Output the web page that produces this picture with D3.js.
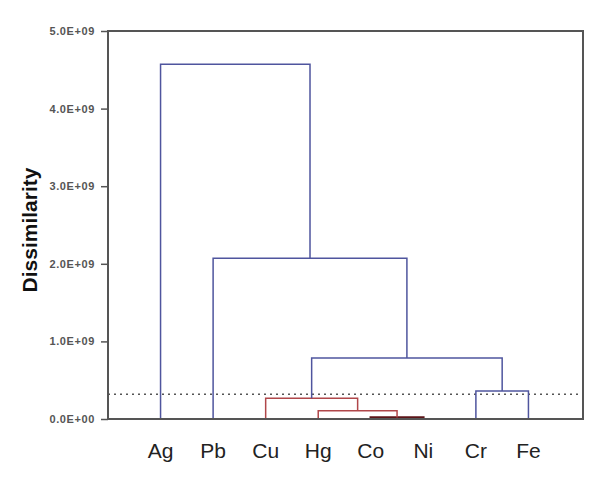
<!DOCTYPE html>
<html>
<head>
<meta charset="utf-8">
<script src="https://cdn.jsdelivr.net/npm/d3@7"></script>
<style>
  body { margin: 0; background: #fff; }
  svg { display: block; font-family: Arial, "Liberation Sans", sans-serif; }
</style>
</head>
<body>
<svg id="chart" width="600" height="477"></svg>
<script>
const LEAVES = ["Ag", "Pb", "Cu", "Hg", "Co", "Ni", "Cr", "Fe"];
// merges: node ids 0..7 are leaves, merge i gets id 8 + i
const MERGE_LEFT = [4, 3, 2, 6, 10, 1, 0];
const MERGE_RIGHT = [5, 8, 9, 7, 11, 12, 13];
const MERGE_HEIGHT = [0.02e9, 0.107e9, 0.267e9, 0.36e9, 0.786e9, 2.07e9, 4.57e9];
const MERGE_GROUP = ["dark", "red", "red", "blue", "blue", "blue", "blue"];
const THRESHOLD = 0.318e9;
const Y_TICKS = [0, 1e9, 2e9, 3e9, 4e9, 5e9];

const COLORS = { blue: "#4f559e", red: "#b0474a", dark: "#5c1518" };

const box = { left: 108, right: 583, top: 31, bottom: 419 };

const svg = d3.select("#chart");

const x = d3.scalePoint().domain(LEAVES).range([box.left, box.right - 2]).padding(1);
const y = d3.scaleLinear().domain([0, 5e9]).range([box.bottom, box.top]);

function tickLabel(d) {
  if (d === 0) return "0.0E+00";
  return (d / 1e9).toFixed(1) + "E+09";
}

// node x positions: leaves from the point scale, merges at the midpoint
const nodeX = LEAVES.map(l => x(l));
const nodeH = LEAVES.map(() => 0);
MERGE_LEFT.forEach((l, i) => {
  nodeX.push((nodeX[l] + nodeX[MERGE_RIGHT[i]]) / 2);
  nodeH.push(MERGE_HEIGHT[i]);
});

const links = MERGE_LEFT.map((l, i) => ({
  a: l, b: MERGE_RIGHT[i], h: MERGE_HEIGHT[i], group: MERGE_GROUP[i]
}));

// threshold line
svg.append("line")
  .attr("x1", box.left).attr("x2", box.right)
  .attr("y1", y(THRESHOLD)).attr("y2", y(THRESHOLD))
  .attr("stroke", "#555")
  .attr("stroke-width", 1.6)
  .attr("stroke-dasharray", "2,4");

svg.append("g").selectAll("path")
  .data(links)
  .join("path")
  .attr("fill", "none")
  .attr("stroke", d => COLORS[d.group])
  .attr("stroke-width", d => d.group === "dark" ? 2.5 : 1.5)
  .attr("d", d => {
    const xa = nodeX[d.a], xb = nodeX[d.b];
    return `M${xa},${y(nodeH[d.a])}V${y(d.h)}H${xb}V${y(nodeH[d.b])}`;
  });

// frame
svg.append("rect")
  .attr("x", box.left).attr("y", box.top)
  .attr("width", box.right - box.left).attr("height", box.bottom - box.top)
  .attr("fill", "none")
  .attr("stroke", "#555")
  .attr("stroke-width", 2);

const yAxis = svg.append("g")
  .attr("transform", `translate(${box.left},0)`)
  .call(d3.axisLeft(y).tickValues(Y_TICKS).tickFormat(tickLabel).tickSize(7).tickPadding(6));
yAxis.select(".domain").remove();
yAxis.selectAll("line").attr("stroke", "#555").attr("stroke-width", 1.5);
yAxis.selectAll("text")
  .attr("fill", "#555")
  .style("font-size", "11px")
  .style("font-weight", "bold")
  .style("letter-spacing", "0.6px");

svg.append("g").selectAll("text")
  .data(LEAVES)
  .join("text")
  .attr("x", d => x(d))
  .attr("y", 458)
  .attr("text-anchor", "middle")
  .attr("fill", "#222")
  .style("font-size", "21px")
  .text(d => d);

svg.append("text")
  .attr("transform", "translate(37,230) rotate(-90)")
  .attr("text-anchor", "middle")
  .attr("fill", "#111")
  .style("font-size", "21px")
  .style("font-weight", "bold")
  .text("Dissimilarity");
</script>
</body>
</html>
